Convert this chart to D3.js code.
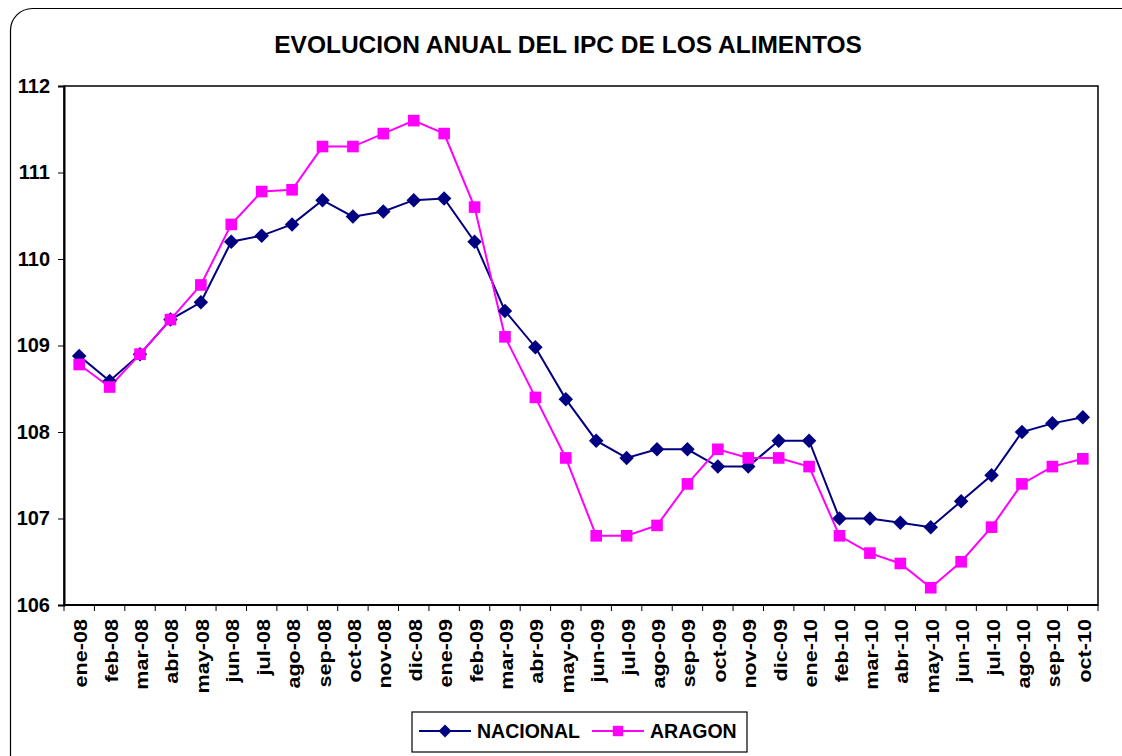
<!DOCTYPE html>
<html>
<head>
<meta charset="utf-8">
<script src="https://cdn.jsdelivr.net/npm/d3@7"></script>
<style>
  html, body { margin: 0; padding: 0; background: #fff; }
  svg { display: block; font-family: "Liberation Sans", Arial, sans-serif; }
</style>
</head>
<body>
<svg id="chart" width="1122" height="756"></svg>
<script>
// Monthly food CPI index, Spain vs. Aragón
const months = ["ene-08","feb-08","mar-08","abr-08","may-08","jun-08","jul-08","ago-08","sep-08","oct-08","nov-08","dic-08",
                "ene-09","feb-09","mar-09","abr-09","may-09","jun-09","jul-09","ago-09","sep-09","oct-09","nov-09","dic-09",
                "ene-10","feb-10","mar-10","abr-10","may-10","jun-10","jul-10","ago-10","sep-10","oct-10"];
const nacional = [108.88,108.59,108.9,109.3,109.5,110.2,110.27,110.4,110.68,110.49,110.55,110.68,
                  110.7,110.2,109.4,108.98,108.38,107.9,107.7,107.8,107.8,107.6,107.6,107.9,
                  107.9,107.0,107.0,106.95,106.9,107.2,107.5,108.0,108.1,108.17];
const aragon   = [108.78,108.52,108.9,109.3,109.7,110.4,110.78,110.8,111.3,111.3,111.45,111.6,
                  111.45,110.6,109.1,108.4,107.7,106.8,106.8,106.92,107.4,107.8,107.7,107.7,
                  107.6,106.8,106.6,106.48,106.2,106.5,106.9,107.4,107.6,107.69];
const yTicks = [106,107,108,109,110,111,112];

const svg = d3.select("#chart");
const W = 1122, H = 756;

// Outer frame with rounded corners
svg.append("rect")
  .attr("x", 10.5).attr("y", 8.5).attr("width", W + 20).attr("height", H + 20)
  .attr("rx", 22).attr("fill", "#fff").attr("stroke", "#000").attr("stroke-width", 1.2);

// Title
svg.append("text")
  .attr("x", 568).attr("y", 53)
  .attr("text-anchor", "middle")
  .attr("font-size", 24.5).attr("font-weight", "bold")
  .text("EVOLUCION ANUAL DEL IPC DE LOS ALIMENTOS");

const plot = { left: 64, right: 1098, top: 86, bottom: 605 };

const x = d3.scaleBand().domain(months).range([plot.left, plot.right]).padding(0);
const y = d3.scaleLinear().domain([106, 112]).range([plot.bottom, plot.top]);

// Plot frame
svg.append("rect")
  .attr("x", plot.left).attr("y", plot.top)
  .attr("width", plot.right - plot.left).attr("height", plot.bottom - plot.top)
  .attr("fill", "none").attr("stroke", "#000").attr("stroke-width", 1.5);

// Y axis
const yAxis = svg.append("g")
  .attr("transform", `translate(${plot.left},0)`)
  .call(d3.axisLeft(y).tickValues(yTicks).tickSize(6).tickPadding(8).tickFormat(d3.format("d")));
yAxis.select(".domain").attr("stroke-width", 2);
yAxis.selectAll("text").attr("font-size", 20).attr("font-weight", "bold")
  .attr("font-family", "Liberation Sans, Arial, sans-serif").attr("fill", "#000");

// X axis: ticks at category boundaries, labels rotated
const xAxisG = svg.append("g").attr("transform", `translate(0,${plot.bottom})`);
xAxisG.append("line")
  .attr("x1", plot.left).attr("x2", plot.right)
  .attr("stroke", "#000").attr("stroke-width", 2);
const boundaries = months.map(m => x(m)).concat([plot.right]);
xAxisG.selectAll("line.tick")
  .data(boundaries)
  .join("line").attr("class", "tick")
  .attr("x1", d => d).attr("x2", d => d)
  .attr("y1", 0).attr("y2", 6)
  .attr("stroke", "#000").attr("stroke-width", 1);
xAxisG.selectAll("text")
  .data(months)
  .join("text")
  .attr("transform", d => `translate(${x(d) + x.bandwidth() / 2 + 8},14) rotate(-90) scale(1.2,1)`)
  .attr("text-anchor", "end")
  .attr("font-size", 18).attr("font-weight", "bold")
  .text(d => d);

// Series: diamonds are squares turned 45 degrees
const series = [
  { name: "NACIONAL", values: nacional, color: "#000080", symbol: d3.symbolSquare, size: 105, rotate: 45 },
  { name: "ARAGON",   values: aragon,   color: "#FF00FF", symbol: d3.symbolSquare, size: 135, rotate: 0 }
];

const line = d3.line()
  .x((d, i) => x(months[i]) + x.bandwidth() / 2)
  .y(d => y(d));

series.forEach(s => {
  svg.append("path")
    .datum(s.values)
    .attr("d", line)
    .attr("fill", "none")
    .attr("stroke", s.color)
    .attr("stroke-width", 2);
});
series.forEach(s => {
  const sym = d3.symbol().type(s.symbol).size(s.size);
  svg.append("g").selectAll("path")
    .data(s.values)
    .join("path")
    .attr("d", sym)
    .attr("transform", (d, i) => `translate(${x(months[i]) + x.bandwidth() / 2},${y(d)}) rotate(${s.rotate})`)
    .attr("fill", s.color);
});

// Legend
const legend = svg.append("g");
legend.append("rect")
  .attr("x", 412).attr("y", 712).attr("width", 335).attr("height", 40)
  .attr("fill", "#fff").attr("stroke", "#000").attr("stroke-width", 1.2);
const legendItems = [
  { s: series[0], x0: 419, tx: 477 },
  { s: series[1], x0: 592, tx: 650 }
];
legendItems.forEach(it => {
  const ly = 731;
  legend.append("line")
    .attr("x1", it.x0).attr("x2", it.x0 + 52)
    .attr("y1", ly).attr("y2", ly)
    .attr("stroke", it.s.color).attr("stroke-width", 2);
  legend.append("path")
    .attr("d", d3.symbol().type(it.s.symbol).size(it.s.size * 0.8)())
    .attr("transform", `translate(${it.x0 + 26},${ly}) rotate(${it.s.rotate})`)
    .attr("fill", it.s.color);
  legend.append("text")
    .attr("x", it.tx).attr("y", ly + 7)
    .attr("font-size", 19.5).attr("font-weight", "bold")
    .text(it.s.name);
});
</script>
</body>
</html>
